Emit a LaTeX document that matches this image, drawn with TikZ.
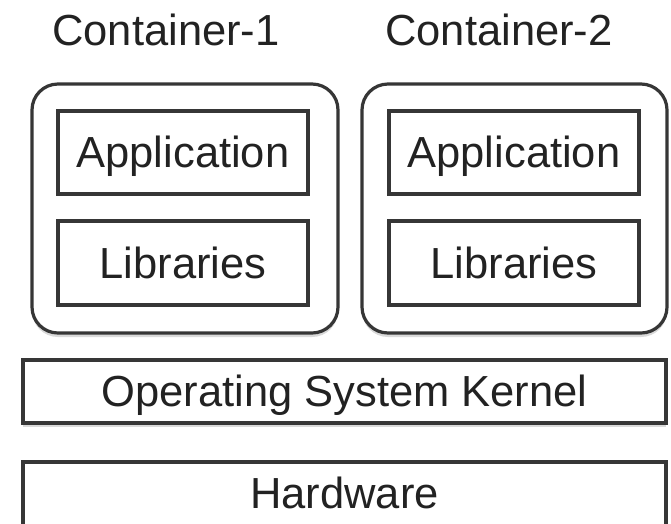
\documentclass[tikz,border=0pt]{standalone}
\usepackage{fontspec}
\setmainfont{Liberation Sans}
\usetikzlibrary{shadows}
\definecolor{linec}{HTML}{363636}
\definecolor{textc}{HTML}{222222}
\tikzset{
  shade/.style={drop shadow={shadow xshift=0pt, shadow yshift=-4pt, opacity=0.25, fill=black!60}},
  contbox/.style={draw=linec, line width=3.2pt, rounded corners=26pt, fill=white, shade},
  layerbox/.style={draw=linec, line width=3.2pt, fill=white, shade},
  innerbox/.style={draw=linec, line width=3.2pt, fill=white},
  lbl/.style={text=textc, font=\fontsize{43.5}{48}\selectfont, inner sep=0pt, anchor=base},
}
\begin{document}
\begin{tikzpicture}[x=1pt, y=-1pt]
\useasboundingbox (0,0) rectangle (671,523);
% containers
\draw[contbox] (32,84) rectangle (338,333);
\draw[contbox] (362,84) rectangle (667,333);
% inner boxes
\node[innerbox, minimum width=250pt, minimum height=83pt, inner sep=0pt] (app1) at (183,152.5) {};
\node[innerbox, minimum width=250pt, minimum height=84pt, inner sep=0pt] (lib1) at (183,263) {};
\node[innerbox, minimum width=250pt, minimum height=83pt, inner sep=0pt] (app2) at (514,152.5) {};
\node[innerbox, minimum width=250pt, minimum height=84pt, inner sep=0pt] (lib2) at (514,263) {};
% layers
\draw[layerbox] (23,360) rectangle (666,423);
\draw[layerbox] (23,462) rectangle (666,532);
% labels
\node[lbl] (c1) at (166,45) {Container-1};
\node[lbl] (c2) at (499,45) {Container-2};
\node[lbl] (a1t) at (183,167) {Application};
\node[lbl] (l1t) at (183,278) {Libraries};
\node[lbl] (a2t) at (514,167) {Application};
\node[lbl] (l2t) at (514,278) {Libraries};
\node[lbl] (os) at (344.5,406) {Operating System Kernel};
\node[lbl] (hw) at (344.5,508) {Hardware};
\end{tikzpicture}
\end{document}
